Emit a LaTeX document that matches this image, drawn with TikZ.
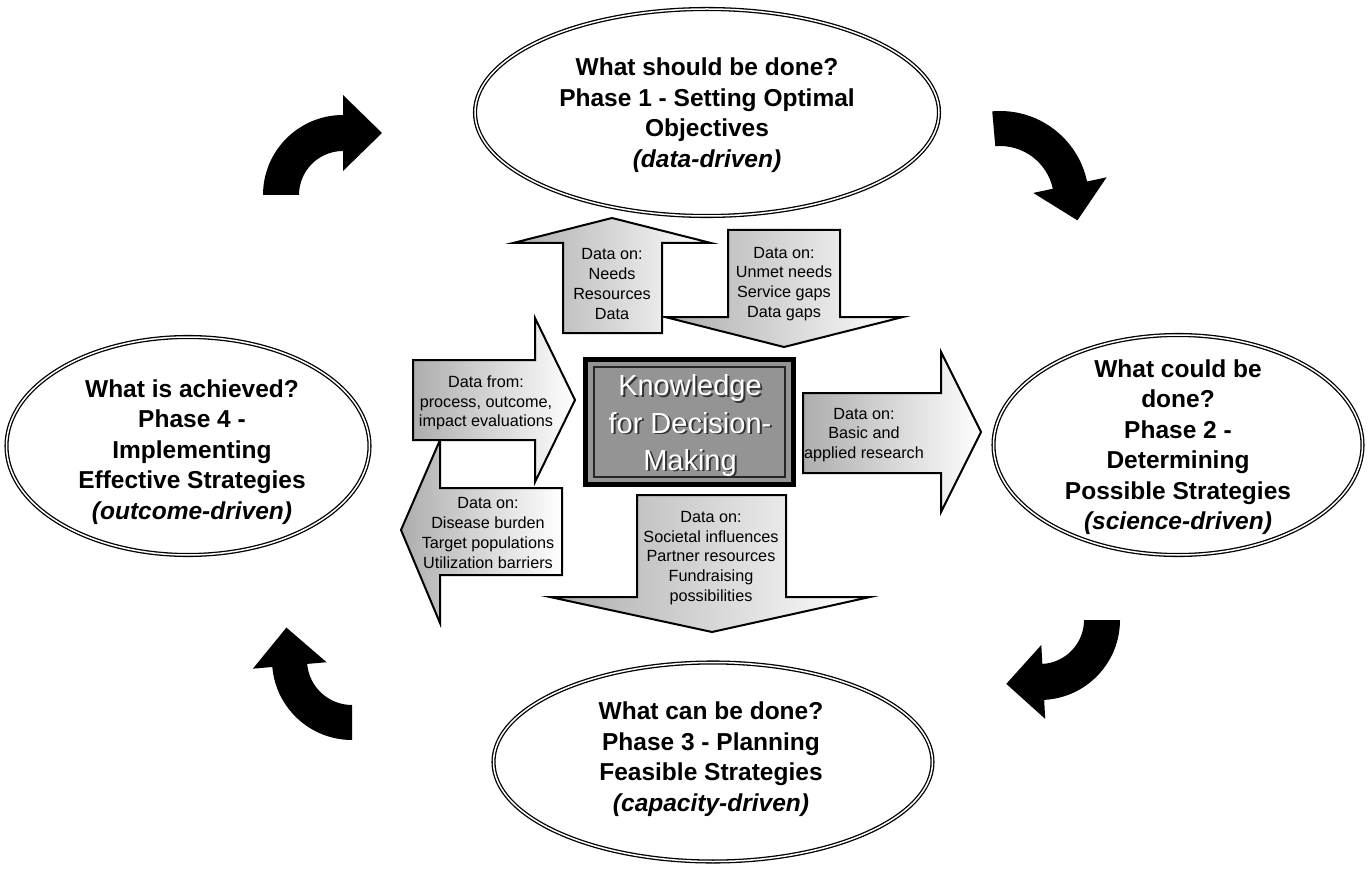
\documentclass[tikz,border=0pt]{standalone}
\usepackage{fontspec}
\setmainfont{Liberation Sans}
\usetikzlibrary{shapes.geometric,calc}
\tikzset{
  phase/.style={ellipse, draw=black, line width=1.3pt, double=white, double distance=1.5pt, fill=white, inner sep=0pt},
  phasetext/.style={align=center, font=\fontsize{24.5}{30.5}\selectfont\bfseries, inner sep=0pt},
  blockarrow/.style={draw=black, line width=2pt, line join=miter, left color=black!32, right color=white},
  datatext/.style={align=center, font=\fontsize{16.2}{19.8}\selectfont, inner sep=0pt},
  ktext/.style={align=center, font=\fontsize{29}{37}\selectfont, inner sep=0pt},
}
\newcommand\blackcurve[8]{%
  \pgfmathsetmacro\cmid{(#3+#4)/2}%
  \pgfmathsetmacro\cout{\cmid+#7}%
  \pgfmathsetmacro\cin{\cmid-#7}%
  \pgfmathsetmacro\ctip{#6+90}%
  \fill[black] ($(#1,#2)+(#5:#3)$) arc[start angle=#5, end angle=#6, radius=#3]
    -- ($(#1,#2)+(#6:\cout)$) -- ($(#1,#2)+(#6:\cmid)+(\ctip:#8)$)
    -- ($(#1,#2)+(#6:\cin)$) -- ($(#1,#2)+(#6:#4)$)
    arc[start angle=#6, end angle=#5, radius=#4] -- cycle;}
\begin{document}
\begin{tikzpicture}[x=1pt, y=-1pt]
\useasboundingbox[fill=white] (0,0) rectangle (1371,869);

% phase ellipses
\node[phase, minimum width=464, minimum height=207] (p1) at (707,112.5) {};
\node[phase, minimum width=363, minimum height=218] (p4) at (188,446) {};
\node[phase, minimum width=369, minimum height=220] (p2) at (1178,445) {};
\node[phase, minimum width=439, minimum height=199] (p3) at (713,762) {};

\node[phasetext] (t1) at (707,115) {What should be done?\\Phase 1 - Setting Optimal\\Objectives\\\textit{(data-driven)}};
\node[phasetext] (t4) at (192,452) {What is achieved?\\Phase 4 -\\Implementing\\Effective Strategies\\\textit{(outcome-driven)}};
\node[phasetext] (t2) at (1178,447) {What could be\\done?\\Phase 2 -\\Determining\\Possible Strategies\\\textit{(science-driven)}};
\node[phasetext] (t3) at (711,759) {What can be done?\\Phase 3 - Planning\\Feasible Strategies\\\textit{(capacity-driven)}};

% curved black arrows
\blackcurve{343}{195}{80}{44}{-180}{-90}{38}{39}
\blackcurve{1000}{200}{89}{54}{-95}{-12}{37.5}{36}
\blackcurve{1040}{620}{80}{44}{0}{87}{37}{37}
\blackcurve{352}{660}{80}{45}{90}{175}{37}{38}

% block arrows
\path[blockarrow] (728,230) -- (840,230) -- (840,317) -- (903,317) -- (784,347) -- (665,317) -- (728,317) -- cycle;
\path[blockarrow] (563,333) -- (563,243) -- (513,243) -- (612,218) -- (711,243) -- (662,243) -- (662,333) -- cycle;
\path[blockarrow] (562,488) -- (440,488) -- (440,440) -- (401,530) -- (440,623) -- (440,575) -- (562,575) -- cycle;
\path[blockarrow] (413,360) -- (535,360) -- (535,318) -- (575,400) -- (535,482) -- (535,440) -- (413,440) -- cycle;
\path[blockarrow] (803,393) -- (941,393) -- (941,352) -- (981,432) -- (941,512) -- (941,473) -- (803,473) -- cycle;
\path[blockarrow] (637,495) -- (786,495) -- (786,597) -- (870,597) -- (712,632) -- (550,597) -- (637,597) -- cycle;

\node[datatext] (dneeds) at (612,284) {Data on:\\Needs\\Resources\\Data};
\node[datatext] (dunmet) at (784,284) {Data on:\\Unmet needs\\Service gaps\\Data gaps};
\node[datatext] (dfrom) at (486,403) {Data from:\\process, outcome,\\impact evaluations};
\node[datatext] (dbasic) at (864,435) {Data on:\\Basic and\\applied research};
\node[datatext] (ddisease) at (488,533) {Data on:\\Disease burden\\Target populations\\Utilization barriers};
\node[datatext] (dsoc) at (711,558) {Data on:\\Societal influences\\Partner resources\\Fundraising\\possibilities};

% knowledge box
\node[draw=black, line width=5pt, fill=black!42, minimum width=208, minimum height=125, inner sep=0pt] (kbox) at (689.5,422) {};
\node[draw=black!85, line width=1.2pt, minimum width=191, minimum height=110, inner sep=0pt] (kin) at (689.5,422) {};
\node[ktext, text=black!80] (kshadow) at (692,427.5) {Knowledge\\for Decision-\\Making};
\node[ktext, text=white] (ktxt) at (690,425.5) {Knowledge\\for Decision-\\Making};
\end{tikzpicture}
\end{document}
